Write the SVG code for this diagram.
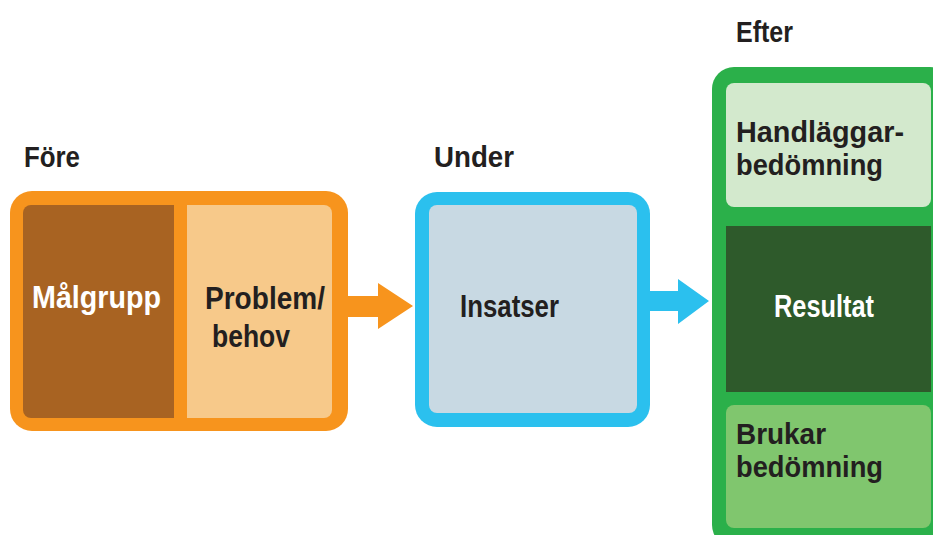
<svg xmlns="http://www.w3.org/2000/svg" width="933" height="535" viewBox="0 0 933 535">
  <style>
    text { font-family: "Liberation Sans", Arial, sans-serif; font-weight: bold; font-size: 31px; fill: #231f20; }
    .w { fill: #ffffff; }
    .head { font-size: 30px; }
    .two { font-size: 30px; }
  </style>

  <rect width="933" height="535" fill="#ffffff"/>

  <!-- phase headings -->
  <text class="head" x="24" y="167" textLength="56" lengthAdjust="spacingAndGlyphs">Före</text>
  <text class="head" x="434" y="167" textLength="80" lengthAdjust="spacingAndGlyphs">Under</text>
  <text class="head" x="736" y="42" textLength="57" lengthAdjust="spacingAndGlyphs">Efter</text>

  <!-- Före: target group and needs -->
  <g id="fore">
    <rect x="10" y="191" width="338" height="240" rx="22" fill="#f7941d"/>
    <rect x="23" y="205" width="151" height="213" rx="8" fill="#a86322"/>
    <rect x="187" y="205" width="145" height="213" rx="8" fill="#f7c98a"/>
    <rect x="166" y="205" width="8" height="213" fill="#a86322"/>
    <rect x="187" y="205" width="8" height="213" fill="#f7c98a"/>
    <text class="w" x="32" y="308" textLength="129" lengthAdjust="spacingAndGlyphs">Målgrupp</text>
    <text x="205" y="309" textLength="120" lengthAdjust="spacingAndGlyphs">Problem/</text>
    <text x="212" y="347" textLength="78" lengthAdjust="spacingAndGlyphs">behov</text>
  </g>

  <!-- Under: interventions -->
  <g id="under">
    <rect x="415" y="192" width="235" height="235" rx="22" fill="#2bc0ee"/>
    <rect x="429" y="205" width="208" height="208" rx="8" fill="#c8d9e3"/>
    <text x="460" y="317" textLength="99" lengthAdjust="spacingAndGlyphs">Insatser</text>
  </g>

  <!-- Efter: assessments and result -->
  <g id="efter">
    <rect x="712" y="67" width="240" height="480" rx="22" fill="#2bb04a"/>
    <rect x="726" y="83" width="205" height="124" rx="8" fill="#d3e9cd"/>
    <rect x="726" y="226" width="205" height="166" fill="#2e5a2b"/>
    <rect x="726" y="405" width="205" height="123" rx="8" fill="#80c66e"/>
    <text class="two" x="736" y="142" textLength="168" lengthAdjust="spacingAndGlyphs">Handläggar-</text>
    <text class="two" x="736" y="175" textLength="147" lengthAdjust="spacingAndGlyphs">bedömning</text>
    <text class="w" x="774" y="317" textLength="100" lengthAdjust="spacingAndGlyphs">Resultat</text>
    <text class="two" x="736" y="444" textLength="90" lengthAdjust="spacingAndGlyphs">Brukar</text>
    <text class="two" x="736" y="477" textLength="147" lengthAdjust="spacingAndGlyphs">bedömning</text>
  </g>

  <!-- connectors -->
  <g id="connectors">
    <polygon points="346,296 378,296 378,283 413,306 378,329 378,317 346,317" fill="#f7941d"/>
    <polygon points="648,291 678,291 678,279 709,301 678,324 678,311 648,311" fill="#2bc0ee"/>
  </g>
</svg>
